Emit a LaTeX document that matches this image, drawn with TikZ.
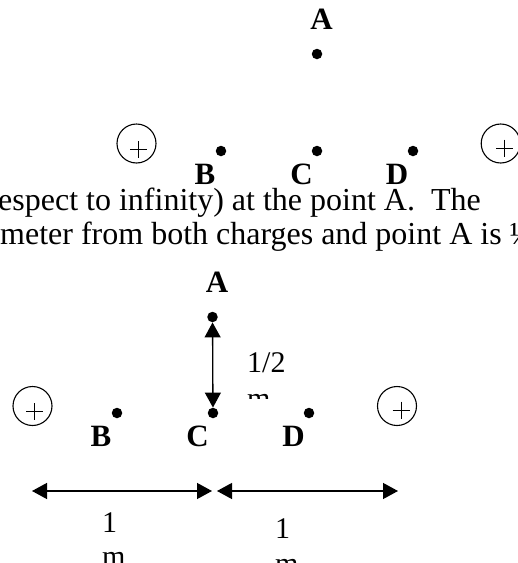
\documentclass[tikz,border=0pt]{standalone}
\usepackage{fontspec}
\setmainfont{Liberation Serif}
\usetikzlibrary{arrows.meta,calc}

\begin{document}
\begin{tikzpicture}[x=1pt, y=-1pt, >={Triangle[length=15pt,width=16pt]},
    dot/.style={circle, fill, inner sep=0pt, minimum size=10.5pt},
    charge/.style={circle, draw, line width=1.1pt, inner sep=0pt, minimum size=39pt},
    lbl/.style={font=\fontsize{31}{36}\selectfont\bfseries, anchor=base, inner sep=0pt},
    body/.style={font=\fontsize{32}{36}\selectfont, anchor=base west, inner sep=0pt},
    txt/.style={font=\fontsize{30}{34}\selectfont, anchor=base west, inner sep=0pt},
    dim/.style={<->, line width=1.3pt}]
    \useasboundingbox (0,0) rectangle (518,563);
    \clip (0,0) rectangle (518,563);
    % upper sketch
    \node[dot] (a1) at (317,54) {};
    \node[dot] (b1) at (221,151) {};
    \node[dot] (c1) at (317,151) {};
    \node[dot] (d1) at (413,151) {};
    \node[lbl] (la1) at (321.5,29) {A};
    \node[lbl] (lb1) at (205,184) {B};
    \node[lbl] (lc1) at (301.5,184) {C};
    \node[lbl] (ld1) at (397,184) {D};
    \node[charge] (q1) at (136.5,143.5) {};
    \node[charge] (q2) at (500.7,143.5) {};
    % text of the problem
    \node[body] (t1) at (-2,210) {espect to infinity) at the point A.\ \ The};
    \node[body] (t2) at (0,244) {meter from both charges and point A is ½};
    % lower sketch
    \node[dot] (a2) at (212.5,317) {};
    \node[dot] (b2) at (117,413) {};
    \node[dot] (c2) at (213,413) {};
    \node[dot] (d2) at (309,413) {};
    \node[lbl] (la2) at (217,292) {A};
    \node[lbl] (lb2) at (101,446) {B};
    \node[lbl] (lc2) at (197.5,446) {C};
    \node[lbl] (ld2) at (293.5,446) {D};
    \node[charge] (q3) at (32.5,406) {};
    \node[charge] (q4) at (397,406) {};
    % plus signs
    \foreach \q/\dx/\dy in {q1/2/6, q2/4/4.5, q3/2/5.5, q4/4/4} {
        \draw[line width=0.8pt] ($(\q)+(\dx-8.5,\dy)$) -- ++(17,0);
        \draw[line width=0.8pt] ($(\q)+(\dx,\dy-8.5)$) -- ++(0,17);
    }
    % distances
    \draw[dim] (a2) -- (c2);
    \coordinate (h1) at (32,491);
    \coordinate (h2) at (212,491);
    \coordinate (h3) at (217,491);
    \coordinate (h4) at (398,491);
    \draw[dim] (h1) -- (h2);
    \draw[dim] (h3) -- (h4);
    \begin{scope}
        \clip (240,340) rectangle (300,398);
        \node[txt] (half) at (247,372) {1/2};
        \node[txt] (m0) at (247,408) {m};
    \end{scope}
    \node[txt] (one1) at (102,532) {1};
    \node[txt] (m1) at (102,566) {m};
    \node[txt] (one2) at (275,538) {1};
    \node[txt] (m2) at (275,573) {m};
\end{tikzpicture}
\end{document}
